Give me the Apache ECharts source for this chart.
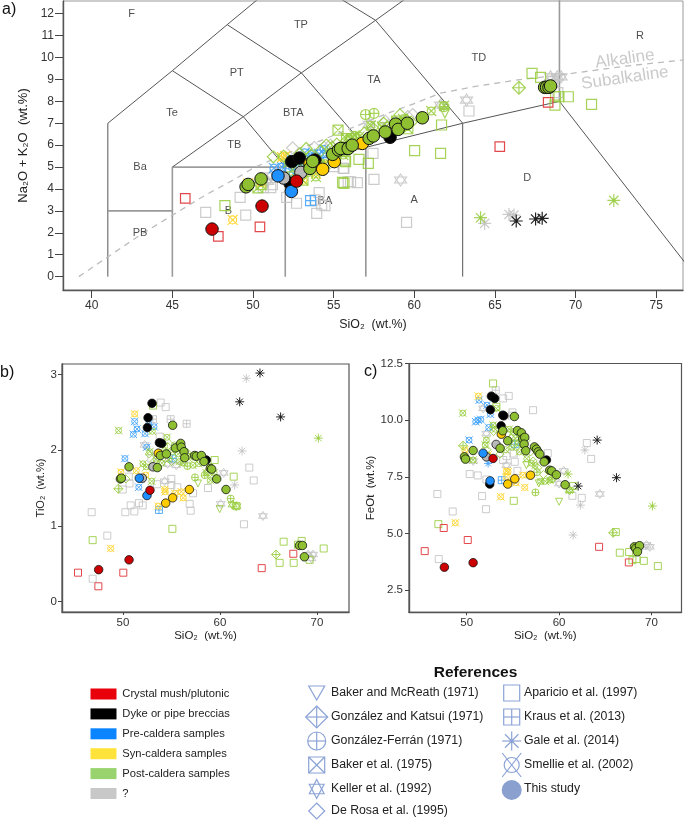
<!DOCTYPE html>
<html><head><meta charset="utf-8">
<style>html,body{margin:0;padding:0;background:#fff}#c{width:685px;height:820px}#c canvas{filter:blur(.35px)}</style>
<script src="https://cdn.jsdelivr.net/npm/echarts@6/dist/echarts.min.js"></script>
</head><body><div id="c"></div>
<script>
// ---------- tick labels ----------
const xTicksA=[40,45,50,55,60,65,70,75];
const yTicksA=[0,1,2,3,4,5,6,7,8,9,10,11,12];
const xTicksB=[50,60,70];
const yTicksB=[0,1,2,3];
const xTicksC=[50,60,70];
const yTicksC=[2.5,5,7.5,10,12.5];

// ---------- TAS field boundaries ----------
const bndThin=[
 [[41,0],[41,7],[45,9.4],[48.4,11.5],[52.5,14]],
 [[45,5],[49.4,7.3],[53,9.3],[57.6,11.7],[61,13.5]],
 [[45,9.4],[49.4,7.3],[52,5],[57,5.9],[63,7],[69,8],[77.46,0]],
 [[48.4,11.5],[53,9.3],[57,5.9],[57,0]],
 [[52.5,14],[57.6,11.7],[63,7],[63,0]],
 [[45,5],[52,5]]
];
const bndThick=[
 [[45,0],[45,5]],
 [[52,0],[52,5]],
 [[41,3],[45,3]],
 [[69,8],[69,13]]
];
const alkalineCurve=[[39.2,0],[41,0.9],[43,1.9],[45,2.8],[47,3.7],[49,4.5],[50,4.95],[52,5.6],[54,6.15],[55.5,6.6],[57,7.05],[58.5,7.5],[60,7.9],[61.6,8.37],[63.7,8.67],[66.3,8.97],[69,9.2],[73,9.6],[76.7,9.89]];
const fieldNames=[[42.48,11.98,'F'],[52.97,11.48,'TP'],[48.99,9.28,'PT'],[44.98,7.48,'Te'],[52.5,7.48,'BTA'],[48.84,5.99,'TB'],[43,4.99,'Ba'],[43,1.98,'PB'],[48.47,3,'B'],[54.46,3.47,'BA'],[57.5,8.97,'TA'],[64,9.99,'TD'],[74,11,'R'],[67,4.49,'D'],[60,3.48,'A']];
const curveNames=[[73.06,9.93,'Alkaline'],[73.06,9.06,'Subalkaline']];

// ---------- panel a: SiO2 vs Na2O+K2O ----------
const aRedSq=[[45.8,3.57],[47.85,1.84],[50.43,2.27],[65.3,5.93],[68.3,7.95]];
const aGraySq=[[47.07,2.93],[49.2,3.62],[49.55,2.81],[51.1,4.06],[50.64,4.06],[52.09,3.62],[52.7,3.35],[54.1,3.83],[53.84,3.5],[54.26,3.27],[54.46,3.24],[53.95,2.89],[54.98,5.02],[55.6,4.94],[55.9,4.33],[55.64,4.94],[56.05,4.33],[56.47,4.29],[57.44,5.63],[57.5,4.44],[63.39,7.56],[59.52,2.48],[51.2,4.2],[68.6,8.9],[68.9,8.4]];
const aGreenSq=[[48.26,3.24],[55.56,4.3],[55.64,4.26],[61.69,6.92],[60.02,5.75],[61.63,5.63],[57.15,5.17],[56.57,5.35],[55.74,5.25],[67.3,9.28],[67.83,9.09],[68.76,8.21],[68.97,8.21],[69.55,8.21],[68.72,7.83],[70.99,7.86],[55.7,5.32],[59.4,6.9]];
const aBlueGrid=[[53.57,3.47]];
const aYellowXC=[[48.74,2.59],[52,5.5],[51.8,5.45],[53.6,5],[54.3,5.1],[53.9,4.7],[55.1,5.5],[56.4,6],[50.5,4.3],[49.7,4.25],[52.7,4.45],[53.1,4.4]];
const aGreenDC=[[66.49,8.62]];
const aGreenCC=[[56.98,7.4],[57.5,7.45],[61.84,7.76]];
const aGreenXS=[[55.27,6.69],[52.4,4.55],[53.1,4.4],[54.1,5.1],[55.8,6.3],[56.1,6.3],[58.9,7.1],[59.3,7],[59.6,6.75],[50.5,4.2],[50.3,4.05]];
const aGreenTri=[[61.9,7.45]];
const aGrayStar=[[63.24,8.06],[61.63,7.83],[59.15,4.41],[68.86,9.12],[68.45,9.12],[69.1,9.12],[57.2,6.95],[58.4,6.9],[51.1,4.6],[50.9,4.35]];
const aGreenDiam=[[51.26,5.47],[51.9,5.5],[52.9,5.6],[53.3,5.85],[53.6,5.55],[54.2,5.75],[54.55,6],[54.9,5.9],[55.2,6.05],[55.5,5.9],[55.8,6.2],[56,6.25],[56.4,6.3],[56.9,6.55],[57.4,6.8],[58.1,7],[58.3,6.8],[59.11,7.38],[59.5,7.15],[59.8,7.05]];
const aGreenXC=[[52.2,5.2],[52.6,5],[53.2,5.05],[53.4,4.75],[53.9,4.55],[54.5,5.15],[54.9,5.45],[55.2,5.7],[55.6,5.55],[55.9,5.9],[56.3,6.45],[56,6.1],[56.6,6.4],[57.3,6.9],[58,6.85],[58.9,7],[59.3,7.2],[59.4,7],[61.05,7.56],[61.84,7.8]];
const aBlueXC=[[51.3,4.95],[51.8,5],[52.1,5.1],[52.3,5.35],[52.5,4.7],[52.8,4.9],[53,5.3],[53.2,5.65],[53.4,5.45],[53.7,5.6],[54.1,5.6],[54.4,5.8],[54.6,5.6],[52.6,5]];
const aGrayDiam=[[52.46,5.88],[53.8,5.9],[54.4,5.9],[54.8,6],[52,4.9],[51.5,4.7],[58.2,7.1],[59.6,7.3],[59.9,7.4]];
const aGreenAst=[[64.11,2.69],[72.37,3.48],[76.7,3.19]];
const aGrayAst=[[64.36,2.43],[65.87,2.84],[66.18,2.81]];
const aBlackAst=[[66.32,2.54],[67.52,2.63],[67.93,2.66]];
const aBlack=[[52.3,4.26],[52.4,5.25],[52.87,5.41],[53.84,5.32],[58.5,6.36]];
const aBlue=[[51.55,4.6],[52.38,3.89]];
const aGray=[[51.9,4.5],[52.97,4.76]];
const aYellow=[[53.53,5.14],[54.32,4.9],[55.04,5.25],[56.78,6.08]];
const aGreen=[[49.57,4.1],[49.7,4.21],[50.5,4.46],[53.53,4.94],[53.7,5.26],[54.94,5.58],[55.3,5.78],[55.8,5.85],[55.43,5.85],[55.9,5.85],[56.15,6],[57.2,6.31],[57.46,6.42],[58.2,6.6],[58.84,6.96],[59,6.72],[59.57,7],[60.5,7.25],[68.08,8.64],[68.2,8.64],[68.35,8.64],[68.45,8.7]];
const aRed=[[47.46,2.17],[50.56,3.22],[52.7,4.36]];

// ---------- panel b: SiO2 vs TiO2 ----------
const bRedSq=[[45.36,.38],[47.46,.2],[50.03,.38],[64.3,.44],[67.56,.63]];
const bGraySq=[[46.77,1.18],[48.38,.87],[46.87,.3],[50.24,1.18],[50.79,1.27],[51.17,1.19],[51.65,1.3],[52.03,1.27],[53.88,2.63],[54.4,2.57],[49.97,1.48],[50.67,1.56],[56.87,1.29],[56.98,1.2],[57.22,1.43],[55.6,1.51],[54.98,1.62],[54.98,1.54],[58.76,1.5],[62.47,1.02],[63.02,1.77],[63.47,1.6],[53.78,2.18],[52.92,1.89],[51.9,1.62],[53.5,1.55],[50.6,1.65]];
const bGreenSq=[[46.87,.81],[55.09,.96],[59.45,1.87],[61.41,1.65],[66.56,.79],[68.42,.8],[68.04,.75],[66.15,.51],[67.6,.51],[69.24,.55],[70.69,.7],[53.09,2.59],[61.7,1.26]];
const bBlueXC=[[51.2,2.38],[51.44,2.28],[51.07,2.21],[52.27,2.22],[52.44,2.04],[50.2,1.89],[51.62,1.51],[53.2,2.31],[52.65,2.35]];
const bYellowXC=[[51.2,2.48],[48.73,.7],[49.79,1.71],[51.37,1.73],[52.34,1.67],[56.22,1.37],[56.01,1.45],[54.3,1.48],[54.36,1.45],[55.33,1.43],[53.64,1.26]];
const bBlueGrid=[[53.71,1.21],[55.12,1.89]];
const bGrayGrid=[[54.91,2.41],[56.56,2.35],[53.09,2.41]];
const bGreenXC=[[49.55,2.26],[53.02,2.25],[54.54,2.17],[52.06,1.82],[52.96,1.59],[52.75,1.98],[53.4,1.88],[54,1.83],[54.7,1.88],[55.1,1.98],[55.3,2.07],[55.8,1.85],[56.2,1.83],[56.7,1.92],[57.2,1.8],[57.8,1.82],[58.6,1.7],[59,1.6],[59.4,1.7],[52.4,1.78],[54.3,2.05],[55.7,1.95]];
const bGreenDiam=[[52.7,1.95],[53.2,1.85],[54.1,1.95],[54.6,2.05],[55,1.85],[55.6,2.05],[56,2],[56.6,1.97],[57.1,1.9],[58,1.85],[58.7,1.72],[59.2,1.65],[50.3,1.62]];
const bGreenDC=[[49.52,1.49],[65.77,.62]];
const bGreenCC=[[57.42,1.64],[61.1,1.36],[56.63,1.79],[58.42,1.67]];
const bGreenTri=[[59.97,1.22],[57.73,1.56]];
const bGrayStar=[[52.23,2.07],[54.3,1.59],[60.38,1.7],[60.07,1.29],[64.43,1.13],[69.07,.62],[69.59,.62],[69.42,.57],[55.5,1.8],[54.6,1.82]];
const bGreenStar=[[61.3,1.28],[61.68,1.26]];
const bBlackAst=[[64.12,3.02],[62.03,2.64],[66.25,2.44]];
const bGrayAst=[[62.71,2.95],[62.27,1.99],[61.51,1.54]];
const bGreenAst=[[70.14,2.16]];
const bBlack=[[52.99,2.62],[52.58,2.43],[52.51,2.3],[53.75,2.1],[53.99,2.09],[58.59,1.87]];
const bBlue=[[51.68,1.63],[52.47,1.4]];
const bGray=[[51.99,1.63],[53.09,1.78]];
const bYellow=[[53.64,1.96],[54.4,1.3],[55.12,1.37],[56.84,1.48]];
const bGreen=[[49.73,1.62],[49.83,1.63],[50.62,1.78],[55.12,2.33],[53.54,1.77],[53.85,1.93],[54.47,1.95],[55.4,2.03],[55.95,2.09],[56.01,2.04],[56.29,1.98],[56.36,1.9],[57.39,1.93],[57.56,1.92],[58.08,1.93],[58.35,1.85],[59,1.76],[59.14,1.75],[59.66,1.62],[60.62,1.48],[68.2,.74],[68.5,.74],[68.7,.59]];
const bRed=[[47.49,.42],[50.62,.55],[52.78,1.47]];

// ---------- panel c: SiO2 vs FeOt ----------
const cRedSq=[[45.45,4.22],[47.51,5.24],[50.11,4.71],[64.33,4.41],[67.55,3.72]];
const cGraySq=[[46.82,6.74],[48.48,5.97],[46.97,3.87],[50.32,7.62],[51.19,7.56],[52.13,7.38],[51.66,6.65],[52.09,6.07],[53.94,10.96],[54.55,11.07],[57.18,10.44],[54.95,10.34],[58.77,8.54],[55.49,7.76],[55.2,8.16],[54.3,8.41],[53.94,8.24],[55.09,8.53],[63,8.99],[63.47,8.29],[62.45,6.57],[61.44,6.66]];
const cGreenSq=[[46.93,5.41],[55.09,6.44],[52.85,11.62],[61.52,7.09],[66.14,5.06],[66.57,4.15],[67.58,4.18],[67.94,3.82],[68.38,3.87],[69.17,3.79],[70.69,3.56],[53.21,10.59]];
const cBlueXC=[[51.34,10.88],[50.25,9.12],[51.23,10],[51.52,10.03],[50.97,9.93],[52.56,10.26],[52.38,9.68],[52.2,10.66]];
const cYellowXC=[[51.26,11.06],[48.77,5.47],[53.68,6.62],[56.28,7.03],[56.06,7.57],[55.34,7.24],[54.3,7.75],[49.78,8.68],[52.31,8.46],[54.48,7.72],[54.3,7.5]];
const cBlueGrid=[[53.79,7.35],[55.2,8.94]];
const cGrayGrid=[[53.14,11.32],[54.9,10.2]];
const cGreenXC=[[49.57,10.31],[53.21,10.52],[52.85,9.78],[52.13,9.12],[50.69,8.24],[53.1,9.6],[52,8.9],[54.6,9.6],[55,9.5],[55.3,9.2],[55.6,9.0],[56,8.9],[56.5,8.3],[57,8.1],[57.4,8.0],[58,7.3],[58.5,7.3],[59,7.35],[61.1,6.9],[54.2,8.7],[54.9,8.8],[55.7,8.6]];
const cGreenDiam=[[52.2,8.7],[52.9,9.5],[53.6,8.5],[54.4,9.4],[54.8,9.2],[55.1,8.9],[55.8,9.3],[56.4,9.1],[56.9,8.6],[57.2,8.2],[57.7,7.9],[58.3,7.6],[59.3,7.4],[50.1,8.3]];
const cGreenDC=[[65.85,5.03],[49.6,8.87]];
const cGreenCC=[[57.44,6.81],[57.6,7.7],[59.2,7.4]];
const cGreenTri=[[60,6.4],[57.8,7.21],[56.46,8.01]];
const cGrayStar=[[51.77,10.52],[52.13,9.41],[60.5,7.76],[64.4,6.74],[69.46,4.49],[68.92,4.41],[69.82,4.41],[54.3,8.01],[60,7.2],[50.7,8.2]];
const cGreenStar=[[61.15,6.91]];
const cBlackAst=[[64.12,9.12],[66.21,7.46],[62.06,7.09]];
const cGrayAst=[[62.78,8.68],[62.31,6.25],[61.52,4.93]];
const cGreenAst=[[60.97,7.62],[70.1,6.21]];
const cBlueAst=[[52.31,8.09]];
const cBlack=[[52.67,11.06],[53.03,10.96],[52.56,10.46],[53.9,10.22],[54.01,10.19],[53.72,9.75],[52.49,7.18],[58.63,8.24]];
const cBlue=[[51.77,8.54],[52.53,7.32]];
const cGray=[[52.13,8.38],[53.18,8.93]];
const cYellow=[[53.75,9.38],[54.44,7.18],[55.2,7.41],[56.9,7.57]];
const cGreen=[[49.75,8.38],[49.86,8.28],[50.69,8.66],[55.16,10.16],[53.9,9.53],[54.44,9.09],[53.61,8.76],[55.49,9.54],[55.92,9.44],[56.06,9.18],[56.28,9.24],[56.21,8.94],[56.39,8.65],[57.33,8.82],[57.55,8.72],[57.73,8.6],[57.91,8.5],[58.38,8.16],[58.99,7.79],[59.2,7.76],[59.71,7.59],[60.65,7.15],[68.16,4.41],[68.3,4.34],[68.7,4.46],[68.48,4.19]];
const cRed=[[47.58,3.51],[50.69,3.71],[52.85,8.31]];

// ---------- legends ----------
const groupNames=['Crystal mush/plutonic','Dyke or pipe breccias','Pre-caldera samples','Syn-caldera samples','Post-caldera samples','?'];
const groupColors=['#e8000b','#000000','#0a84ff','#ffe23a','#98d36e','#c8c8c8'];
const refNamesLeft=['Baker and McReath (1971)','González and Katsui (1971)','González-Ferrán (1971)','Baker et al. (1975)','Keller et al. (1992)','De Rosa et al. (1995)'];
const refNamesRight=['Aparicio et al. (1997)','Kraus et al. (2013)','Gale et al. (2014)','Smellie et al. (2002)','This study'];

// ---------- symbols ----------
const O='M12 0A12 12 0 1 1 12 24A12 12 0 1 1 12 0Z';
const SYM={
 sq:'path://M0 0H24V24H0Z',
 grid:'path://M0 0H24V24H0ZM12 0V24M0 12H24',
 xs:'path://M0 0H24V24H0ZM0 0L24 24M24 0L0 24',
 tri:'path://M0 0H24L12 24Z',
 diam:'path://M12 0L24 12L12 24L0 12Z',
 dc:'path://M12 0L24 12L12 24L0 12ZM12 0V24M0 12H24',
 cc:'path://'+O+'M12 0V24M0 12H24',
 star:'path://M12 0L22.4 18H1.6ZM12 24L1.6 6H22.4Z',
 ast:'path://M12 0V24M0 12H24M3.5 3.5L20.5 20.5M3.5 20.5L20.5 3.5',
 xc:'path://M12 2.5A9.5 9.5 0 1 1 12 21.5A9.5 9.5 0 1 1 12 2.5ZM0 0L24 24M24 0L0 24',
 dot:'circle'
};
const STROKE={green:'rgba(150,205,60,.85)',gray:'rgba(195,195,195,.85)',red:'#e2474b',blue:'rgba(60,160,250,.85)',yellow:'#ffd83a',black:'#222'};
const FILL={green:'#8fc031',gray:'#b9b9b9',red:'#cc0000',blue:'#1e90ff',yellow:'#ffcc00',black:'#000'};

const FONT='"Liberation Sans",Arial,sans-serif';
const series=[];
function lineS(data,g,width,color,extra){
 series.push(Object.assign({type:'line',data,xAxisIndex:g,yAxisIndex:g,showSymbol:false,silent:true,animation:false,z:1,
  lineStyle:{width,color,cap:'butt'}},extra||{}));
}
bndThin.forEach(d=>lineS(d,0,1,'#555'));
bndThick.forEach(d=>lineS(d,0,1.6,'#9a9a9a'));
lineS(alkalineCurve,0,1.3,'#bcbcbc',{smooth:false,lineStyle:{width:1.3,color:'#bcbcbc',type:[6,5]}});
series.push({type:'scatter',data:fieldNames,xAxisIndex:0,yAxisIndex:0,symbolSize:0,silent:true,animation:false,z:2,
 label:{show:true,position:'inside',formatter:p=>p.value[2],color:'#222',fontSize:11,fontFamily:FONT}});
series.push({type:'scatter',data:curveNames,xAxisIndex:0,yAxisIndex:0,symbolSize:0,silent:true,animation:false,z:3,
 label:{show:true,position:'inside',rotate:8,formatter:p=>p.value[2],color:'#bdbdbd',fontSize:17,fontFamily:FONT}});

function open(g,sym,col,data,size){
 series.push({type:'scatter',data,xAxisIndex:g,yAxisIndex:g,symbol:SYM[sym],symbolSize:size,silent:true,animation:false,z:4,
  itemStyle:{color:'rgba(255,255,255,0)',borderColor:STROKE[col],borderWidth:g==0?1.2:1,opacity:1}});
 if(sym==='ast') series.push({type:'scatter',data,xAxisIndex:g,yAxisIndex:g,symbol:'circle',symbolSize:g==0?3.5:2.5,silent:true,animation:false,z:4,
  itemStyle:{color:STROKE[col]}});
}
function filled(g,col,data,size){
 series.push({type:'scatter',data,xAxisIndex:g,yAxisIndex:g,symbol:'circle',symbolSize:size,silent:true,animation:false,z:5,
  itemStyle:{color:FILL[col],borderColor:'#111',borderWidth:g==0?1:.8,opacity:1}});
}
// panel a
open(0,'sq','gray',aGraySq,10);open(0,'diam','gray',aGrayDiam,12);open(0,'star','gray',aGrayStar,12);
open(0,'xc','blue',aBlueXC,10);open(0,'grid','blue',aBlueGrid,10);
open(0,'xc','yellow',aYellowXC,10);
open(0,'sq','green',aGreenSq,10);open(0,'diam','green',aGreenDiam,12);open(0,'xc','green',aGreenXC,10);
open(0,'xs','green',aGreenXS,10);open(0,'dc','green',aGreenDC,13);open(0,'cc','green',aGreenCC,10);open(0,'tri','green',aGreenTri,9);
open(0,'sq','red',aRedSq,9.5);
open(0,'ast','gray',aGrayAst,13);open(0,'ast','green',aGreenAst,13);open(0,'ast','black',aBlackAst,13);
filled(0,'black',aBlack,12.5);filled(0,'gray',aGray,12.5);filled(0,'blue',aBlue,12.5);filled(0,'yellow',aYellow,12.5);filled(0,'green',aGreen,12.5);filled(0,'red',aRed,12.5);
// panel b
open(1,'sq','gray',bGraySq,7);open(1,'grid','gray',bGrayGrid,7);open(1,'star','gray',bGrayStar,9);
open(1,'xc','blue',bBlueXC,7.5);open(1,'grid','blue',bBlueGrid,7);
open(1,'xc','yellow',bYellowXC,7.5);
open(1,'sq','green',bGreenSq,7);open(1,'diam','green',bGreenDiam,8);open(1,'xc','green',bGreenXC,7.5);open(1,'star','green',bGreenStar,9);
open(1,'dc','green',bGreenDC,9);open(1,'cc','green',bGreenCC,7);open(1,'tri','green',bGreenTri,7);
open(1,'sq','red',bRedSq,7);
open(1,'ast','gray',bGrayAst,9);open(1,'ast','green',bGreenAst,9);open(1,'ast','black',bBlackAst,9);
filled(1,'black',bBlack,8.5);filled(1,'gray',bGray,8.5);filled(1,'blue',bBlue,8.5);filled(1,'yellow',bYellow,8.5);filled(1,'green',bGreen,8.5);filled(1,'red',bRed,8.5);
// panel c
open(2,'sq','gray',cGraySq,7);open(2,'grid','gray',cGrayGrid,7);open(2,'star','gray',cGrayStar,9);
open(2,'xc','blue',cBlueXC,7.5);open(2,'grid','blue',cBlueGrid,7);open(2,'ast','blue',cBlueAst,8);
open(2,'xc','yellow',cYellowXC,7.5);
open(2,'sq','green',cGreenSq,7);open(2,'diam','green',cGreenDiam,8);open(2,'xc','green',cGreenXC,7.5);open(2,'star','green',cGreenStar,9);
open(2,'dc','green',cGreenDC,9);open(2,'cc','green',cGreenCC,7);open(2,'tri','green',cGreenTri,7);
open(2,'sq','red',cRedSq,7);
open(2,'ast','gray',cGrayAst,9);open(2,'ast','green',cGreenAst,9);open(2,'ast','black',cBlackAst,9);
filled(2,'black',cBlack,8.5);filled(2,'gray',cGray,8.5);filled(2,'blue',cBlue,8.5);filled(2,'yellow',cYellow,8.5);filled(2,'green',cGreen,8.5);filled(2,'red',cRed,8.5);

function axis(gridIndex,min,max,ticks,fs,tickLen,margin,name,nameFs,nameGap,fmt){
 return {type:'value',gridIndex,min,max,scale:true,
  splitLine:{show:false},
  axisLine:{show:true,onZero:false,lineStyle:{color:'#555',width:1.4}},
  axisTick:{show:true,length:tickLen,customValues:ticks,lineStyle:{color:'#444',width:1}},
  axisLabel:{show:true,customValues:ticks,color:'#333',fontSize:fs,fontFamily:FONT,margin,
    formatter:fmt||(v=>String(v)),hideOverlap:false,showMinLabel:true,showMaxLabel:true},
  name,nameLocation:'middle',nameGap,
  nameTextStyle:{color:'#222',fontSize:nameFs,fontFamily:FONT}};
}
const grid=[
 {left:63,top:1,width:620,height:289,show:true,borderColor:'#999',borderWidth:1,backgroundColor:'transparent'},
 {left:62,top:364,width:287,height:248,show:true,borderColor:'#555',borderWidth:1.2,backgroundColor:'transparent'},
 {left:409,top:363.5,width:272.5,height:248.8,show:true,borderColor:'#555',borderWidth:1.2,backgroundColor:'transparent'}
];
const xAxis=[
 axis(0,38.22,76.66,xTicksA,12,8,10,'SiO₂  (wt.%)',12.4,29),
 axis(1,43.71,73.3,xTicksB,11.5,3,5,'SiO₂  (wt.%)',11.5,17),
 axis(2,43.75,73.25,xTicksC,11.5,3,5,'SiO₂  (wt.%)',11.5,17)
];
const yAxis=[
 axis(0,-0.61,12.58,yTicksA,12,8,9,'Na₂O + K₂O  (wt.%)',13,29),
 axis(1,-0.14,3.14,yTicksB,11.5,4,5,'TiO₂  (wt.%)',11,13),
 axis(2,1.52,12.5,yTicksC,11.5,4,6,'FeOt  (wt.%)',11.5,27,v=>v.toFixed(1))
];

// ---------- legend graphics ----------
const g=[];
const txt=(text,x,y,font,fill,align)=>g.push({type:'text',silent:true,z:20,style:{text,x,y,font,fill:fill||'#222',textAlign:align||'left',textVerticalAlign:'middle'}});
txt('a)',2,10,'16px '+FONT,'#111');txt('b)',0,373,'16px '+FONT,'#111');txt('c)',364,372,'16px '+FONT,'#111');
groupNames.forEach((n,i)=>{
 const y=694+i*19.9;
 g.push({type:'rect',silent:true,z:20,shape:{x:90.5,y:y-5.5,width:26,height:11},style:{fill:groupColors[i]}});
 txt(n,122.3,y,'11.2px '+FONT);
});
txt('References',475.5,672.5,'bold 15.5px '+FONT,'#111','center');
const lineBlue='#8ba3d6';
const KEY={
 sq:[['p',[[0,0],[24,0],[24,24],[0,24]]]],
 grid:[['p',[[0,0],[24,0],[24,24],[0,24]]],['l',12,0,12,24],['l',0,12,24,12]],
 xs:[['p',[[0,0],[24,0],[24,24],[0,24]]],['l',0,0,24,24],['l',24,0,0,24]],
 tri:[['p',[[0,0],[24,0],[12,24]]]],
 diam:[['p',[[12,0],[24,12],[12,24],[0,12]]]],
 dc:[['p',[[12,0],[24,12],[12,24],[0,12]]],['l',12,0,12,24],['l',0,12,24,12]],
 cc:[['c',12,12,12],['l',12,0,12,24],['l',0,12,24,12]],
 star:[['p',[[12,0],[22.4,18],[1.6,18]]],['p',[[12,24],[1.6,6],[22.4,6]]]],
 ast:[['l',12,0,12,24],['l',0,12,24,12],['l',3.5,3.5,20.5,20.5],['l',3.5,20.5,20.5,3.5],['d',12,12,2]],
 xc:[['c',12,12,9.5],['l',0,0,24,24],['l',24,0,0,24]]
};
function legendSym(sym,cx,cy,w,h){
 const fx=v=>cx-w/2+v*w/24, fy=v=>cy-h/2+v*h/24;
 const style={fill:'none',stroke:lineBlue,lineWidth:1.2};
 KEY[sym].forEach(p=>{
  if(p[0]==='p') g.push({type:'polygon',silent:true,z:20,shape:{points:p[1].map(q=>[fx(q[0]),fy(q[1])])},style});
  else if(p[0]==='l') g.push({type:'line',silent:true,z:20,shape:{x1:fx(p[1]),y1:fy(p[2]),x2:fx(p[3]),y2:fy(p[4])},style});
  else if(p[0]==='c') g.push({type:'circle',silent:true,z:20,shape:{cx:fx(p[1]),cy:fy(p[2]),r:p[3]*w/24},style});
  else g.push({type:'circle',silent:true,z:20,shape:{cx:fx(p[1]),cy:fy(p[2]),r:p[3]},style:{fill:lineBlue}});
 });
}
const rowY=[693,717,741,765,789,811];
[['tri',16,14],['dc',22,22],['cc',18,18],['xs',16,16],['star',17,19],['diam',16,16]].forEach((s,i)=>{
 legendSym(s[0],316.7,rowY[i],s[1],s[2]);txt(refNamesLeft[i],331,rowY[i],'12.3px '+FONT);
});
[['sq',16,16],['grid',16,16],['ast',19,19],['xc',19,24]].forEach((s,i)=>{
 legendSym(s[0],511.7,rowY[i],s[1],s[2]);txt(refNamesRight[i],524,rowY[i],'12.3px '+FONT);
});
g.push({type:'circle',silent:true,z:20,shape:{cx:511.7,cy:790,r:10},style:{fill:'#8aa1d0'}});
txt(refNamesRight[4],524,789,'12.3px '+FONT);

const chart=echarts.init(document.getElementById('c'),null,{renderer:'canvas'});
chart.setOption({animation:false,backgroundColor:'#fff',grid,xAxis,yAxis,series,graphic:g,tooltip:{show:false}});
</script></body></html>
